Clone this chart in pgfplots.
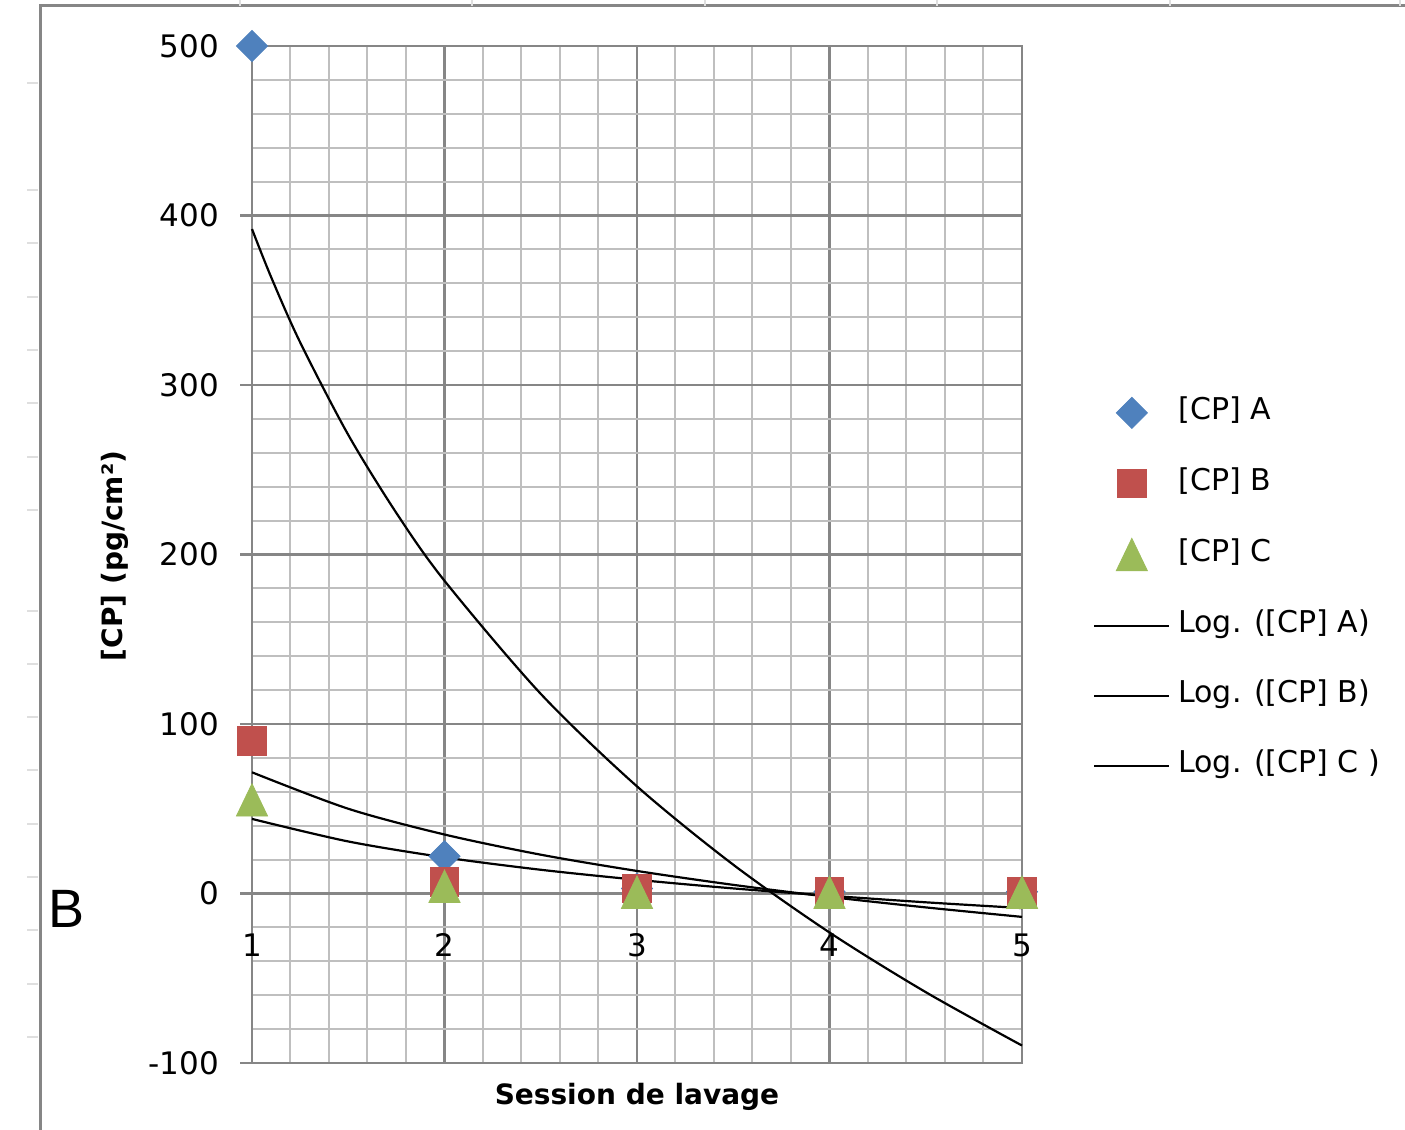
\documentclass[border=0pt]{standalone}
\usepackage{pgfplots}
\pgfplotsset{compat=1.18}
\usepackage{fontspec}
\setmainfont{DejaVu Sans}
\newfontfamily\lib{Liberation Sans}
\definecolor{gmaj}{RGB}{134,134,134}
\definecolor{gmin}{RGB}{191,191,191}
\definecolor{cpA}{RGB}{79,129,189}
\definecolor{cpB}{RGB}{192,80,77}
\definecolor{cpC}{RGB}{155,187,89}

\begin{document}
\begin{tikzpicture}
\useasboundingbox (0,0) rectangle (702.5pt,565pt);
% sheet frame
\draw[gmaj, line width=1.5pt] (20pt,0pt) -- (20pt,562pt) -- (702.5pt,562pt);
\foreach \x in {120,236,352.5,468.5,585,700}
  \draw[gray!25, line width=1pt] (\x pt,562pt) -- (\x pt,565pt);
\foreach \y in {523.5,470,443.5,416.5,390,363.5,336.5,310,259.5,233,206.5,180,153,126.5,100,73,46.5}
  \draw[gray!25, line width=1.2pt] (13.5pt,\y pt) -- (19pt,\y pt);
\node[font=\lib\fontsize{27}{30}\selectfont] at (33.5pt,110.5pt) {B};

\begin{axis}[
  at={(126pt,33.5pt)}, anchor=south west,
  scale only axis, width=385pt, height=508.5pt,
  xmin=1, xmax=5, ymin=-100, ymax=500,
  xtick={1,...,5}, ytick={-100,0,...,500},
  minor x tick num=4, minor y tick num=4,
  grid=both,
  major grid style={gmaj, line width=1.3pt},
  minor grid style={gmin, line width=1pt},
  axis line style={gmaj, line width=1.3pt},
  tick align=outside, major tick length=6pt, minor tick length=0pt,
  xtick style={draw=none},
  ytick pos=left,
  ytick style={gmaj, line width=1.3pt},
  /pgf/number format/assume math mode=true,
  tick label style={font=\fontsize{15.5}{18}\selectfont},
  xticklabel style={anchor=center, yshift=65pt},
  yticklabel style={anchor=east, xshift=-7pt},
  xlabel={Session de lavage},
  xlabel style={font=\bfseries\fontsize{14}{16}\selectfont, at={(axis description cs:0.5,0)}, anchor=center, yshift=-17pt},
  ylabel={[CP] (pg/cm²)},
  ylabel style={font=\bfseries\fontsize{14}{16}\selectfont, at={(axis description cs:-0.178,0.4985)}, anchor=center},
  clip=false,
  legend cell align=left,
  legend image code/.code={\draw[mark repeat=2,mark phase=2,#1] plot coordinates {(0pt,0pt) (18.75pt,0pt) (37.5pt,0pt)};},
  legend style={at={(rel axis cs:1.092,0.655)}, anchor=north west, draw=none, fill=none,
    inner sep=0pt, row sep=20pt, font=\fontsize{15}{18}\selectfont,
    nodes={inner sep=0pt, text height=11pt, text depth=4pt},
    /tikz/every odd column/.append style={column sep=4pt}},
]
\addplot[only marks, color=cpA, mark=square*, mark size=5.5pt, mark options={rotate=45}]
  coordinates {(1,500) (2,22) (3,3) (4,1) (5,1)};
\addlegendentry{[CP] A}
\addplot[only marks, color=cpB, mark=square*, mark size=7.2pt]
  coordinates {(1,90) (2,7) (3,3) (4,1) (5,1)};
\addlegendentry{[CP] B}
\addplot[only marks, color=cpC, mark=triangle*, mark size=9pt, mark options={yshift=-2.5pt, yscale=1.2}]
  coordinates {(1,55) (2,4) (3,0.5) (4,0.5) (5,0.5)};
\addlegendentry{[CP] C}
% logarithmic trend lines
\addplot[black, line width=1.1pt, smooth] coordinates {
  (1,392) (1.1,363.5) (1.25,325.2) (1.5,270.6) (1.75,224.5) (2,184.5)
  (2.5,117.8) (3,63.2) (3.5,17.0) (4,-23.0) (4.5,-58.2) (5,-89.7)};
\addlegendentry{Log. ([CP] A)}
\addplot[black, line width=1.1pt, smooth] coordinates {
  (1,71.5) (1.5,50.0) (2,34.8) (2.5,22.9) (3,13.3) (3.5,5.1) (4,-2.0) (4.5,-8.2) (5,-13.8)};
\addlegendentry{Log. ([CP] B)}
\addplot[black, line width=1.1pt, smooth] coordinates {
  (1,44) (1.5,30.7) (2,21.3) (2.5,14.0) (3,8.1) (3.5,3.0) (4,-1.3) (4.5,-5.2) (5,-8.6)};
\addlegendentry{Log. ([CP] C )}
\end{axis}
\end{tikzpicture}
\end{document}
